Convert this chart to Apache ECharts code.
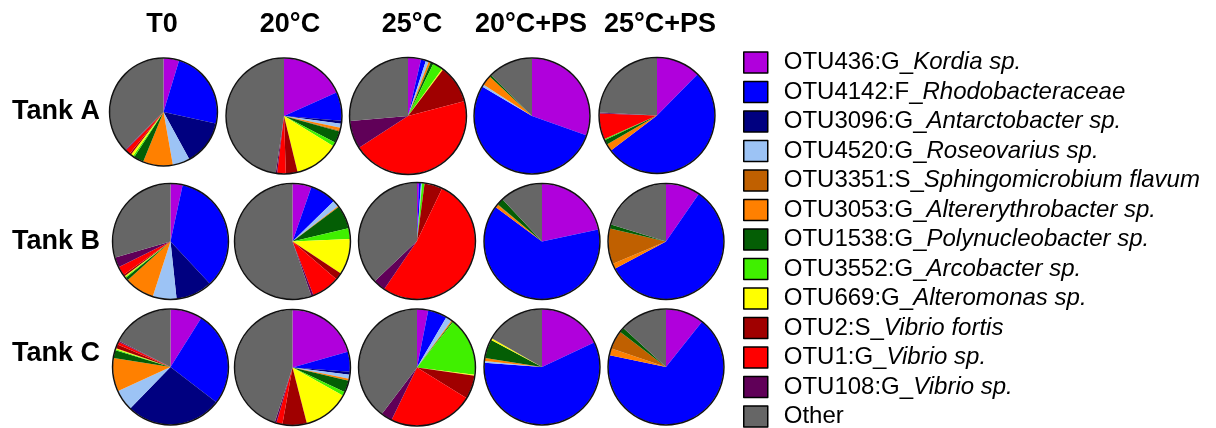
<!DOCTYPE html>
<html>
<head>
<meta charset="utf-8">
<script src="https://cdn.jsdelivr.net/npm/echarts@6/dist/echarts.min.js"></script>
<style>
html,body{margin:0;padding:0;background:#fff;}
#c{width:1216px;height:428px;}
</style>
</head>
<body>
<div id="c"></div>
<script>
// ---- data ----
var tanks = ['Tank A', 'Tank B', 'Tank C'];
var conditions = ['T0', '20°C', '25°C', '20°C+PS', '25°C+PS'];
var otuIds = ['OTU436:G_', 'OTU4142:F_', 'OTU3096:G_', 'OTU4520:G_', 'OTU3351:S_', 'OTU3053:G_',
  'OTU1538:G_', 'OTU3552:G_', 'OTU669:G_', 'OTU2:S_', 'OTU1:G_', 'OTU108:G_', 'Other'];
var otuTaxa = ['Kordia sp.', 'Rhodobacteraceae', 'Antarctobacter sp.', 'Roseovarius sp.', 'Sphingomicrobium flavum',
  'Altererythrobacter sp.', 'Polynucleobacter sp.', 'Arcobacter sp.', 'Alteromonas sp.', 'Vibrio fortis',
  'Vibrio sp.', 'Vibrio sp.', ''];
// relative abundance (%) in legend order
var tankA_T0   = [4.7, 23.9, 13.6, 5.2, 0, 9.0, 3.0, 0.5, 0.7, 0.5, 1.5, 0.3, 37.5];
var tankA_20   = [18.3, 8.1, 0.8, 1.1, 0.3, 0.8, 3.3, 1.1, 12.5, 3.3, 2.4, 0.4, 47.8];
var tankA_25   = [3.6, 1.4, 0, 0.8, 0, 0.6, 0.8, 2.8, 0.3, 10.6, 45.0, 7.8, 26.4];
var tankA_20PS = [30.5, 53.2, 0, 0.6, 0, 2.8, 0.6, 0, 0, 0, 0, 0, 12.5];
var tankA_25PS = [12.4, 52.3, 0, 0, 0, 2.0, 1.4, 0.3, 0, 0, 7.2, 0.3, 24.2];
var tankB_T0   = [3.4, 34.9, 10.3, 6.7, 0, 8.4, 0.8, 0.3, 0.3, 0.5, 2.5, 2.8, 29.7];
var tankB_20   = [5.3, 7.4, 0, 1.8, 0, 0.3, 6.5, 3.0, 10.0, 2.0, 7.8, 0.6, 55.3];
var tankB_25   = [0.5, 0.6, 0, 0.3, 0, 0, 0, 0.7, 0, 5.0, 52.6, 3.4, 37.2];
var tankB_20PS = [21.7, 63.6, 0, 0, 0.2, 0.8, 1.9, 0, 0, 0, 0, 0, 12.0];
var tankB_25PS = [9.6, 57.6, 0, 0, 9.9, 1.5, 1.2, 0, 0, 0, 0, 0, 20.2];
var tankC_T0   = [8.9, 26.5, 26.8, 5.9, 0, 9.3, 2.2, 0.3, 0.3, 1.1, 0.8, 0.3, 17.5];
var tankC_20   = [20.6, 5.6, 0.8, 1.1, 0, 0.6, 3.3, 1.1, 12.9, 6.8, 1.7, 0.5, 45.0];
var tankC_25   = [3.1, 5.3, 0, 1.7, 0, 0.3, 0.3, 16.3, 0.3, 6.5, 23.4, 3.1, 39.7];
var tankC_20PS = [18.0, 58.1, 0, 0.5, 0, 0.8, 5.3, 0, 0.5, 0, 0, 0, 16.7];
var tankC_25PS = [10.7, 67.6, 0, 0, 5.2, 1.9, 1.4, 0, 0, 0, 0, 0, 13.2];

// ---- styles / layout ----
var colors = ['#b000dc', '#0000ff', '#000080', '#9cc3f5', '#c06000', '#ff8000',
  '#045e05', '#40f000', '#ffff00', '#a00000', '#ff0000', '#600058', '#666666'];
var sliceOrder = [0, 1, 2, 3, 5, 4, 6, 7, 8, 9, 10, 11, 12];
var pieValues = [
  [tankA_T0, tankA_20, tankA_25, tankA_20PS, tankA_25PS],
  [tankB_T0, tankB_20, tankB_25, tankB_20PS, tankB_25PS],
  [tankC_T0, tankC_20, tankC_25, tankC_20PS, tankC_25PS]
];
var pieCenters = [
  [[163.5, 112], [284, 116], [408, 116], [532, 116], [657, 115.5]],
  [[170.5, 241.5], [292.5, 241.5], [417, 241], [542, 241.5], [666, 241.5]],
  [[170.5, 367], [292.5, 367.5], [417, 367.5], [542, 367], [666, 367]]
];
var pieRadii = [[53.5, 57.5, 58, 57.5, 57.5], [57.5, 57.5, 58, 57.5, 57.5], [57.5, 57.5, 58, 57.5, 57.5]];
var headerX = [162, 290, 412, 531, 660];
var rowLabelY = [112, 242, 354];

var names = otuIds.map(function (id, i) { return id + otuTaxa[i]; });
var FONT = '"Liberation Sans", Arial, Helvetica, sans-serif';

var series = [];
pieValues.forEach(function (row, r) {
  row.forEach(function (vals, c) {
    var rad = pieRadii[r][c];
    series.push({
      type: 'pie',
      name: tanks[r] + ' ' + conditions[c],
      center: pieCenters[r][c],
      radius: [0, rad],
      startAngle: 90,
      clockwise: true,
      silent: true,
      label: { show: false },
      labelLine: { show: false },
      itemStyle: { borderWidth: 0 },
      emphasis: { disabled: true },
      data: sliceOrder.map(function (k) {
        return { name: names[k], value: vals[k], itemStyle: { color: colors[k] } };
      })
    });
    series.push({
      type: 'pie',
      name: 'outline ' + r + c,
      center: pieCenters[r][c],
      radius: [rad - 0.3, rad + 1.2],
      silent: true,
      label: { show: false },
      labelLine: { show: false },
      emphasis: { disabled: true },
      itemStyle: { color: '#111', borderWidth: 0 },
      data: [{ name: '', value: 1 }]
    });
  });
});

var graphics = [];
conditions.forEach(function (t, i) {
  graphics.push({ type: 'text', x: headerX[i], y: 25,
    style: { text: t, fontSize: 27, fontWeight: 'bold', fontFamily: FONT, fill: '#000',
      textAlign: 'center', textVerticalAlign: 'middle' } });
});
tanks.forEach(function (t, i) {
  graphics.push({ type: 'text', x: 12, y: rowLabelY[i],
    style: { text: t, fontSize: 27, fontWeight: 'bold', fontFamily: FONT, fill: '#000',
      textAlign: 'left', textVerticalAlign: 'middle' } });
});

var chart = echarts.init(document.getElementById('c'), null, { renderer: 'canvas' });
chart.setOption({
  animation: false,
  backgroundColor: '#fff',
  legend: {
    orient: 'vertical',
    left: 743,
    top: 50.5,
    width: 470,
    height: 420,
    padding: 0,
    itemWidth: 24,
    itemHeight: 21,
    itemGap: 5.5,
    itemStyle: { borderColor: '#000', borderWidth: 1.5 },
    icon: 'rect',
    selectedMode: false,
    data: names,
    formatter: function (name) {
      var i = names.indexOf(name);
      var s = '{n|' + otuIds[i] + '}';
      if (otuTaxa[i]) s += '{i|' + otuTaxa[i] + '}';
      return s;
    },
    textStyle: {
      color: '#000',
      fontSize: 24,
      fontFamily: FONT,
      padding: [0, 0, 0, 11],
      rich: {
        n: { fontSize: 24, fontFamily: FONT, color: '#000' },
        i: { fontSize: 24, fontFamily: FONT, color: '#000', fontStyle: 'italic' }
      }
    }
  },
  graphic: graphics,
  series: series
});
</script>
</body>
</html>
